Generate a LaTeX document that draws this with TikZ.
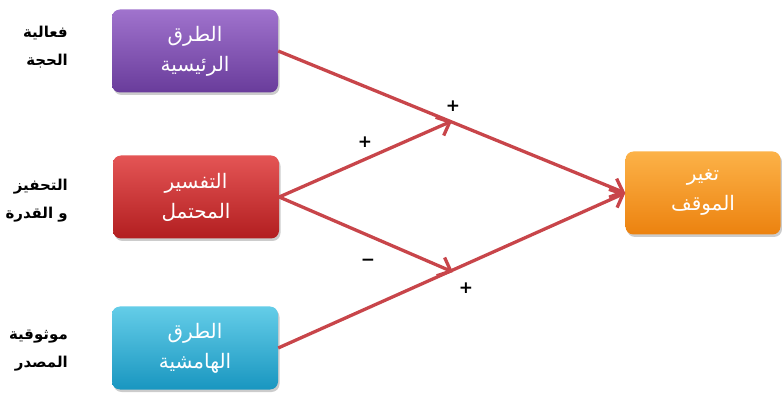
\documentclass[tikz,border=0pt]{standalone}
\usepackage{fontspec}
\TeXXeTstate=1
\newfontfamily\arabicfont[Script=Arabic]{DejaVu Sans}
\newfontfamily\signfont{DejaVu Sans}
\usetikzlibrary{arrows.meta,shadows}
\definecolor{arrowred}{HTML}{C8454A}
\tikzset{
  box/.style={rounded corners=8pt, minimum width=166pt, minimum height=83pt,
    align=center, text=white, font=\arabicfont\fontsize{20}{30}\selectfont,
    drop shadow={shadow xshift=1.5pt,shadow yshift=-2.5pt,opacity=0.4}},
  side/.style={align=right, anchor=east, inner sep=0pt, font=\arabicfont\bfseries\fontsize{15}{28}\selectfont, text=black},
  link/.style={draw=arrowred, line width=3.3pt, -{Straight Barb[length=11pt,width=20pt,line width=3.3pt]}},
  sign/.style={font=\signfont\bfseries\fontsize{17}{17}\selectfont}
}
\begin{document}
\begin{tikzpicture}[x=1pt,y=-1pt]
\useasboundingbox (0,0) rectangle (782,395);
\node[box, top color={rgb,255:red,160;green,115;blue,205}, bottom color={rgb,255:red,105;green,60;blue,155}] (main) at (195,51)
  {\beginR الطرق\endR\\\beginR الرئيسية\endR};
\node[box, top color={rgb,255:red,228;green,85;blue,85}, bottom color={rgb,255:red,178;green,30;blue,32}] (interp) at (196,197)
  {\beginR التفسير\endR\\\beginR المحتمل\endR};
\node[box, top color={rgb,255:red,100;green,205;blue,232}, bottom color={rgb,255:red,25;green,150;blue,192}] (periph) at (195,348)
  {\beginR الطرق\endR\\\beginR الهامشية\endR};
\node[box, minimum width=155pt, top color={rgb,255:red,252;green,178;blue,72}, bottom color={rgb,255:red,236;green,130;blue,15}] (attitude) at (703,193)
  {\beginR تغير\endR\\\beginR الموقف\endR};

\node[side] (l1) at (68,47) {\beginR فعالية\endR\\\beginR الحجة\endR};
\node[side] (l2) at (68,201) {\beginR التحفيز\endR\\\beginR و القدرة\endR};
\node[side] (l3) at (68,351) {\beginR موثوقية\endR\\\beginR المصدر\endR};

\coordinate (m1) at (452,121);
\coordinate (m2) at (453,272);

\draw[link] (main.east) -- (attitude.west);
\draw[link] (periph.east) -- (attitude.west);
\draw[link] (interp.east) -- (m1);
\draw[link] (interp.east) -- (m2);

\node[sign] (s1) at (453,106) {+};
\node[sign] (s2) at (365,142) {+};
\node[sign] (s3) at (368,262) {−};
\node[sign] (s4) at (466,288) {+};
\end{tikzpicture}
\end{document}
